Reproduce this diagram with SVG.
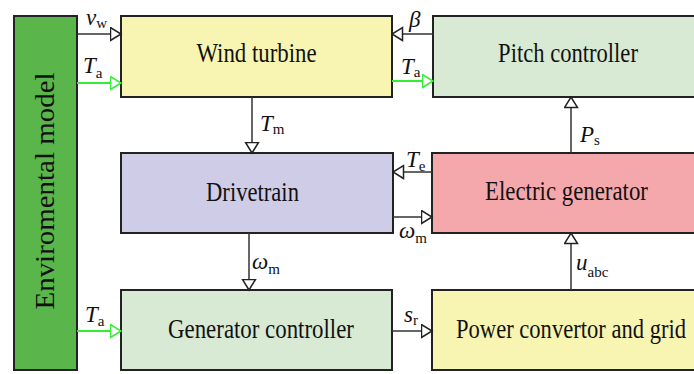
<svg xmlns="http://www.w3.org/2000/svg" width="694" height="374" viewBox="0 0 694 374" font-family="Liberation Serif, Times New Roman, serif">
<style>
.box{stroke:#222;stroke-width:2}
.lbl{font-size:27px;fill:#111;text-anchor:middle}
.v{font-size:23px;font-style:italic;fill:#111}
.s{font-size:15px;font-style:normal;fill:#111}
.ln{stroke:#333;stroke-width:1.5;fill:none;marker-end:url(#ah)}
.gl{stroke:#33ee33;stroke-width:2;fill:none;marker-end:url(#ahg)}
</style>
<defs>
<marker id="ah" markerUnits="userSpaceOnUse" markerWidth="13" markerHeight="16" refX="11.5" refY="7.5" orient="auto" viewBox="0 0 13 16">
<path d="M1,1 L11.5,7.5 L1,14 Z" fill="#fff" stroke="#222" stroke-width="1.5"/>
</marker>
<marker id="ahg" markerUnits="userSpaceOnUse" markerWidth="13" markerHeight="16" refX="11.5" refY="7.5" orient="auto" viewBox="0 0 13 16">
<path d="M1,1 L11.5,7.5 L1,14 Z" fill="#fff" stroke="#33ee33" stroke-width="1.5"/>
</marker>
</defs>
<rect width="694" height="374" fill="#fff"/>
<g id="environmental-model">
<rect class="box" x="14" y="16" width="63" height="354" fill="#5ab64a"/>
<text class="lbl" transform="translate(54,191) rotate(-90)" font-size="28" textLength="237" lengthAdjust="spacingAndGlyphs">Enviromental model</text>
</g>
<g id="wind-turbine">
<rect class="box" x="121" y="16" width="271" height="81" fill="#f8f5b2"/>
<text class="lbl" transform="translate(256.5,62) scale(0.845,1)">Wind turbine</text>
</g>
<g id="pitch-controller">
<rect class="box" x="433" y="16" width="275" height="81" fill="#d8ead3"/>
<text class="lbl" transform="translate(568,62) scale(0.837,1)">Pitch controller</text>
</g>
<g id="drivetrain">
<rect class="box" x="121" y="153" width="272" height="80" fill="#cfcce8"/>
<text class="lbl" transform="translate(252.5,201) scale(0.838,1)">Drivetrain</text>
</g>
<g id="electric-generator">
<rect class="box" x="432" y="153" width="276" height="80" fill="#f5a8ac"/>
<text class="lbl" transform="translate(566.5,200) scale(0.846,1)">Electric generator</text>
</g>
<g id="generator-controller">
<rect class="box" x="121" y="290" width="271" height="80" fill="#d8ead3"/>
<text class="lbl" transform="translate(261,338) scale(0.847,1)">Generator controller</text>
</g>
<g id="power-convertor">
<rect class="box" x="432" y="290" width="276" height="80" fill="#f8f5b2"/>
<text class="lbl" transform="translate(571,338) scale(0.836,1)">Power convertor and grid</text>
</g>
<g id="connectors">
<line class="ln" x1="77" y1="34" x2="121" y2="34"/>
<line class="gl" x1="77" y1="83" x2="121" y2="83"/>
<line class="ln" x1="433" y1="34" x2="392" y2="34"/>
<line class="gl" x1="392" y1="81" x2="433" y2="81"/>
<line class="ln" x1="252" y1="97" x2="252" y2="153"/>
<line class="ln" x1="432" y1="172" x2="393" y2="172"/>
<line class="ln" x1="393" y1="217" x2="432" y2="217"/>
<line class="ln" x1="249" y1="233" x2="249" y2="290"/>
<line class="ln" x1="571" y1="153" x2="571" y2="97"/>
<line class="ln" x1="571" y1="290" x2="571" y2="233"/>
<line class="gl" x1="77" y1="331" x2="121" y2="331"/>
<line class="ln" x1="392" y1="331" x2="432" y2="331"/>
</g>
<g id="labels">
<text class="v" x="86" y="25">v<tspan class="s" dy="3">w</tspan></text>
<text class="v" x="83" y="73">T<tspan class="s" dy="5">a</tspan></text>
<text class="v" x="409" y="27">β</text>
<text class="v" x="401" y="74">T<tspan class="s" dy="3">a</tspan></text>
<text class="v" x="260" y="131">T<tspan class="s" dy="3">m</tspan></text>
<text class="v" x="406" y="167">T<tspan class="s" dy="4">e</tspan></text>
<text class="v" x="399" y="238">ω<tspan class="s" dy="5">m</tspan></text>
<text class="v" x="252" y="269">ω<tspan class="s" dy="5">m</tspan></text>
<text class="v" x="580" y="142">P<tspan class="s" dy="3">s</tspan></text>
<text class="v" x="576" y="270">u<tspan class="s" dy="7">abc</tspan></text>
<text class="v" x="85" y="322">T<tspan class="s" dy="4">a</tspan></text>
<text class="v" x="404" y="322">s<tspan class="s" dy="3">r</tspan></text>
</g>
</svg>
